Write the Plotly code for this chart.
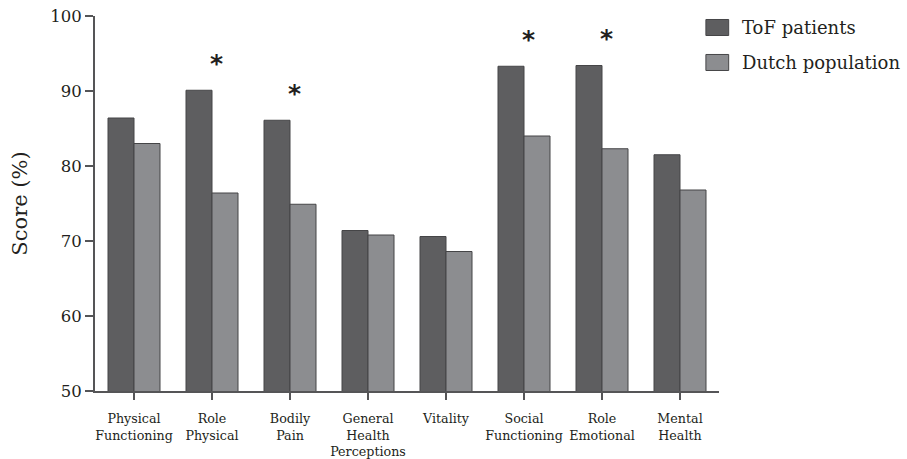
import plotly.graph_objects as go

# SF-36 domain scores
categories = [
    "Physical<br>Functioning",
    "Role<br>Physical",
    "Bodily<br>Pain",
    "General<br>Health<br>Perceptions",
    "Vitality",
    "Social<br>Functioning",
    "Role<br>Emotional",
    "Mental<br>Health",
]
tof_scores = [86.4, 90.1, 86.1, 71.4, 70.6, 93.3, 93.4, 81.5]
dutch_scores = [83.0, 76.4, 74.9, 70.8, 68.6, 84.0, 82.3, 76.8]
significant = [False, True, True, False, False, True, True, False]

series_names = ["ToF patients", "Dutch population"]
series_colors = ["#5e5e60", "#8c8d90"]
y_ticks = [50, 60, 70, 80, 90, 100]

SERIF = "DejaVu Serif"
TEXT = "#231f20"
AXIS = "#555557"

fig = go.Figure()
for name, vals, col in zip(series_names, [tof_scores, dutch_scores], series_colors):
    fig.add_trace(go.Bar(
        x=categories, y=vals, name=name,
        marker=dict(color=col, line=dict(color="#454547", width=1)),
        showlegend=False,
    ))

# significance markers above the patient bars
for cat, val, sig in zip(categories, tof_scores, significant):
    if sig:
        fig.add_annotation(
            x=cat, y=val, xref="x", yref="y",
            text="<b>*</b>", showarrow=False,
            font=dict(family="DejaVu Sans", size=25, color=TEXT),
            yanchor="middle", xshift=4, yshift=27,
        )

# legend drawn as swatches + labels to the right of the plot
legend_rows = [(0.9907, 0.948), (0.8974, 0.8547)]
for (y1, y0), name, col in zip(legend_rows, series_names, series_colors):
    fig.add_shape(type="rect", xref="paper", yref="paper",
                  x0=0.979, x1=1.0155, y0=y0, y1=y1,
                  fillcolor=col, line=dict(color="#454547", width=1))
    fig.add_annotation(x=1.033, y=(y0 + y1) / 2, xref="paper", yref="paper",
                       text=name, showarrow=False, xanchor="left", yanchor="middle",
                       font=dict(family=SERIF, size=18, color=TEXT))

fig.update_layout(
    width=907, height=459,
    margin=dict(l=95, r=188, t=15.5, b=68.3, pad=0),
    paper_bgcolor="white", plot_bgcolor="white",
    barmode="group", bargap=1/3, bargroupgap=0,
    font=dict(family=SERIF, color=TEXT),
)
fig.update_xaxes(
    automargin=False,
    showline=True, linecolor=AXIS, linewidth=2,
    ticks="outside", ticklen=7, tickwidth=2, tickcolor=AXIS,
    ticklabelstandoff=8,
    tickfont=dict(family=SERIF, size=12.7, color=TEXT),
    showgrid=False, zeroline=False, range=[-0.5, 7.5],
)
fig.update_yaxes(
    automargin=False,
    range=[50, 100], tickvals=y_ticks,
    showline=True, linecolor=AXIS, linewidth=2,
    ticks="outside", ticklen=8, tickwidth=2, tickcolor=AXIS,
    tickfont=dict(family=SERIF, size=16.5, color=TEXT),
    showgrid=False, zeroline=False,
    title=dict(text="Score (%)", font=dict(family=SERIF, size=21, color=TEXT), standoff=17),
)

fig.write_html("out.html")
